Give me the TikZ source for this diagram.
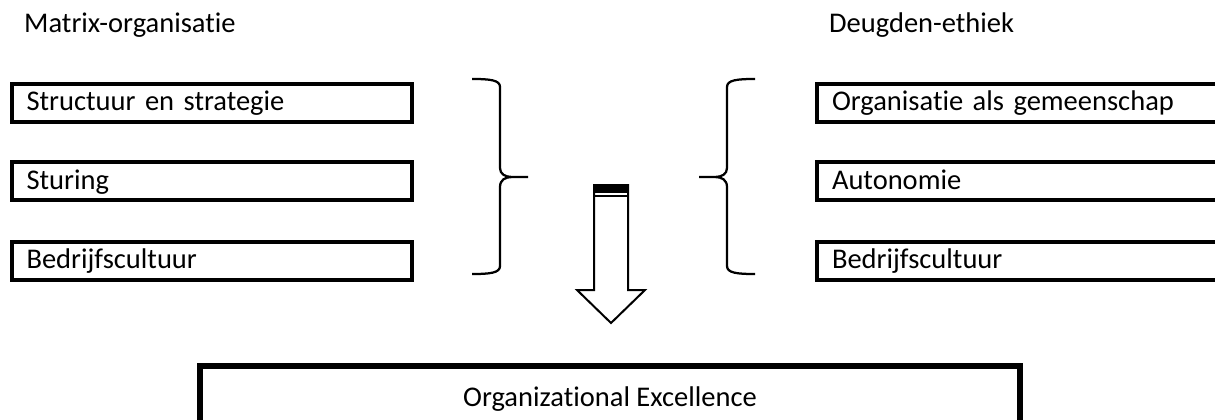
\documentclass[tikz,border=0pt]{standalone}
\usepackage{fontspec}
\setmainfont{Carlito}[Ligatures={NoCommon}]
\begin{document}
\begin{tikzpicture}[x=1pt,y=-1pt,
  every node/.style={font=\fontsize{28.5}{34}\selectfont},
  title/.style={anchor=base west, inner sep=0pt},
  itembox/.style={draw, line width=4pt, anchor=north west, inner ysep=0pt,
    minimum height=38pt, text height=21pt, text depth=5pt, align=left},
  leftbox/.style={itembox, inner xsep=15pt, text width=370.5pt},
  rightbox/.style={itembox, inner xsep=15pt, text width=395pt},
  goalbox/.style={draw, line width=5.5pt, anchor=north, inner sep=0pt,
    minimum width=820pt, minimum height=66pt, text height=21pt, text depth=5pt},
  bracket/.style={draw, line width=2.25pt, line join=round},
  bigarrow/.style={draw, line width=2pt, line join=miter, fill=white}]

\path[use as bounding box] (0,0) rectangle (1215,420);
\clip (0,0) rectangle (1215,420);

% column headings
\node[title] (hl) at (24,33) {Matrix-organisatie};
\node[title] (hr) at (829,33) {Deugden-ethiek};

% left column
\node[leftbox] (l1) at (9.5,81.5) {Structuur en strategie};
\node[leftbox] (l2) at (9.5,160)  {Sturing};
\node[leftbox] (l3) at (9.5,239.5) {Bedrijfscultuur};

% right column (runs off the right edge)
\node[rightbox] (r1) at (815,81.5) {Organisatie als gemeenschap};
\node[rightbox] (r2) at (815,160)  {Autonomie};
\node[rightbox] (r3) at (815,239.5) {Bedrijfscultuur};

% closing brace of the left group
\path[bracket] (472,79) .. controls (490,79) and (500,80) .. (500,87)
  -- (500,168) .. controls (500,174) and (505,177) .. (512,177) -- (528,177)
  (512,177) .. controls (505,177) and (500,180) .. (500,187)
  -- (500,266) .. controls (500,273) and (490,274) .. (472,274);

% opening brace of the right group
\path[bracket] (755,79) .. controls (737,79) and (727,80) .. (727,87)
  -- (727,168) .. controls (727,174) and (722,177) .. (715,177) -- (699,177)
  (715,177) .. controls (722,177) and (727,180) .. (727,187)
  -- (727,266) .. controls (727,273) and (737,274) .. (755,274);

% block arrow down to the goal
\path[bigarrow] (594,185) -- (594,290) -- (577,290) -- (611,323)
  -- (645,290) -- (628,290) -- (628,185) -- cycle;
\fill (593,184) rectangle (629,193);
\draw[line width=2pt] (594,196) -- (628,196);

% goal
\node[goalbox] (goal) at (610,363) {Organizational Excellence};

\end{tikzpicture}
\end{document}
